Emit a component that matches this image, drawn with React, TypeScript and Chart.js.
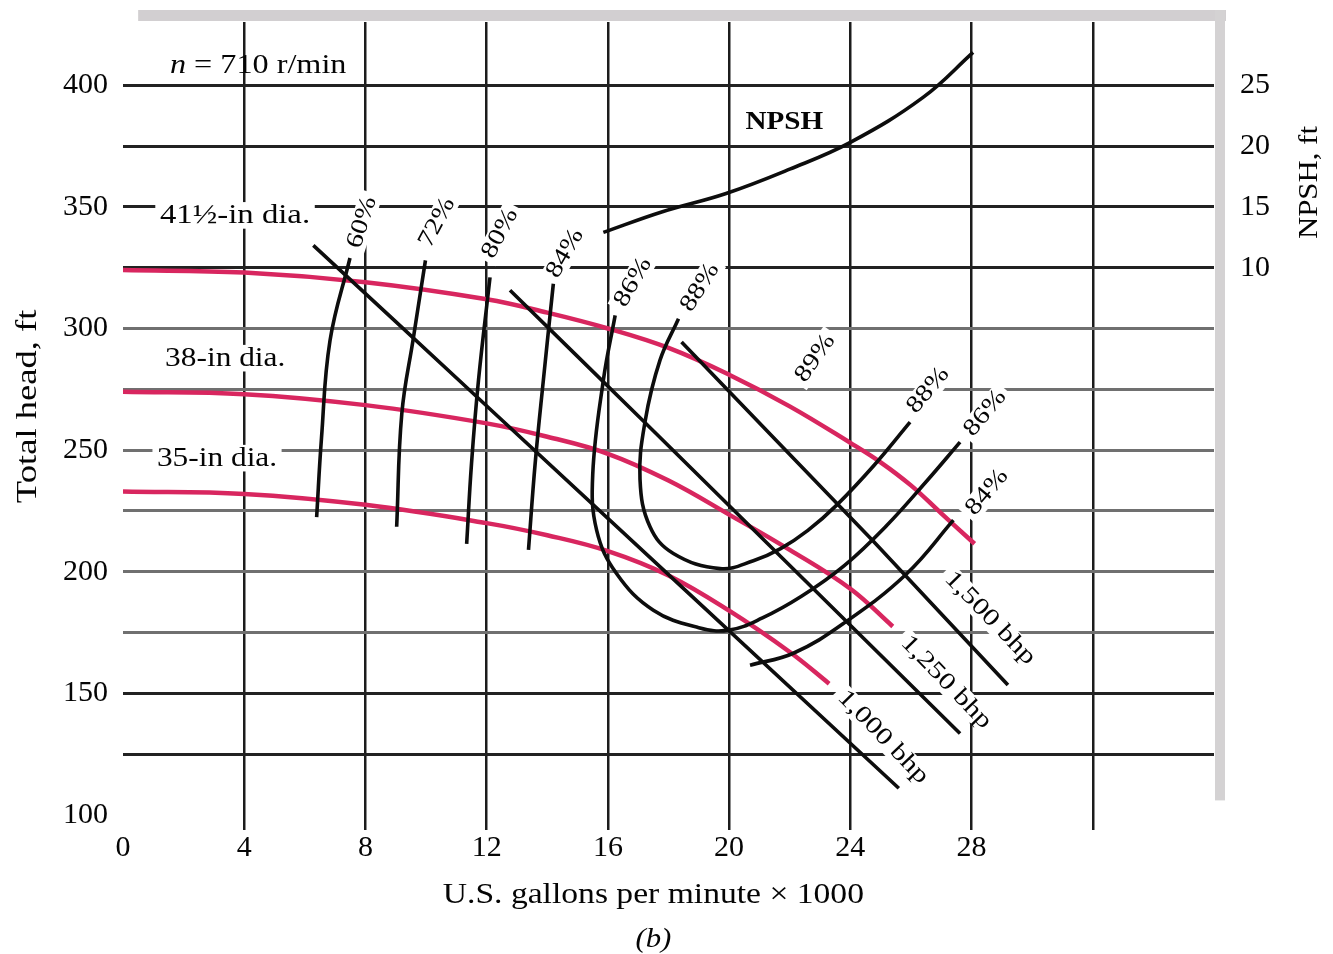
import React, { useEffect, useRef } from 'react';
import { Chart, registerables } from 'chart.js';

Chart.register(...registerables);

const FONT = '"Liberation Serif", "Times New Roman", serif';
const TEXT = '#050505';

// ---- axes ----
const flowTicks = [0, 4, 8, 12, 16, 20, 24, 28, 32, 36];
const flowLabelMax = 28;
const headTicks = [100, 125, 150, 175, 200, 225, 250, 275, 300, 325, 350, 375, 400];
const headDark = [400, 375, 350, 325, 150, 125];
const npshTicks = [10, 15, 20, 25];

// ---- head-capacity curves (flow x1000 gpm, head ft) ----
const dia415Flow = [0, 4, 8, 12, 14, 16, 18, 20, 22, 24, 25, 26, 27, 28.1];
const dia415Head = [324, 323, 319, 312, 306.5, 300, 292, 281, 268, 253, 245, 235.5, 224, 211.5];
const dia38Flow = [0, 4, 8, 12, 14, 16, 18, 20, 22, 24, 25.4];
const dia38Head = [274, 273, 268.5, 261, 255.5, 248.5, 237.5, 223.5, 209, 193, 177.5];
const dia35Flow = [0, 4, 8, 12, 14, 16, 18, 20, 22, 23.3];
const dia35Head = [233, 232, 227.5, 220, 215, 208.5, 198.5, 184, 167, 154];

// ---- efficiency curves ----
const eff60Flow = [6.39, 6.55, 6.83, 7.49];
const eff60Head = [222.5, 255, 295, 329];
const eff72Flow = [9.03, 9.2, 9.58, 9.98];
const eff72Head = [218.5, 265, 296, 328];
const eff80Flow = [11.34, 11.5, 11.73, 12.11];
const eff80Head = [211.5, 244.5, 278.7, 321];
const eff84Flow = [13.38, 13.6, 13.87, 14.2];
const eff84Head = [209, 244.5, 278.7, 318.4];
const eff86Flow = [16.24, 15.85, 15.5, 15.63, 16.29, 17.5, 19.0, 20.0, 21.1, 22.4, 23.8, 25.2, 26.5, 27.62];
const eff86Head = [305.4, 278.7, 240, 217, 199.2, 184.2, 177, 176, 181, 190, 202.5, 219, 237, 253.3];
const eff88Flow = [18.33, 17.72, 17.23, 17.06, 17.39, 18.16, 19.7, 20.8, 21.7, 22.6, 23.55, 24.8, 25.97];
const eff88Head = [304, 287, 262, 238, 218.5, 207.5, 201.3, 204.5, 209.5, 217, 227.4, 244, 261.5];
const eff84bFlow = [20.69, 22.12, 23.77, 25.86, 27.4];
const eff84bHead = [161.6, 166.5, 178.7, 199.2, 221.2];

// ---- brake horsepower lines ----
const bhp1500Flow = [18.43, 24.76, 29.2];
const bhp1500Head = [294.4, 212.5, 153.4];
const bhp1250Flow = [12.77, 17.17, 27.62];
const bhp1250Head = [315.7, 262, 133.5];
const bhp1000Flow = [6.28, 11.45, 25.6];
const bhp1000Head = [334.2, 274.5, 111];

// ---- NPSH curve (ft, right axis) ----
const npshFlow = [15.85, 17.8, 19.9, 22, 24, 26.4, 28.05];
const npshValue = [12.9, 14.6, 16.1, 18.1, 20.3, 24.0, 27.7];

const zip = (xs: number[], ys: number[]) => xs.map((x, i) => ({ x, y: ys[i] }));

type Ann = {
  text: string;
  x: number;
  y: number;
  angle?: number;
  size?: number;
  bold?: boolean;
  italic?: boolean;
  align?: CanvasTextAlign;
  bg?: boolean;
  sx?: number;
};

const labels: Ann[] = [
  { text: '41½-in dia.', x: 1.22, y: 346.5, align: 'left', size: 28, bg: true, sx: 1.17 },
  { text: '38-in dia.', x: 1.39, y: 287.8, align: 'left', size: 28, bg: true },
  { text: '35-in dia.', x: 1.12, y: 246.7, align: 'left', size: 28, bg: true },
  { text: 'NPSH', x: 21.82, y: 384.7, size: 26, bold: true },
  { text: '60%', x: 7.89, y: 343.6, angle: -72, size: 24, bg: true, sx: 1.2 },
  { text: '72%', x: 10.36, y: 343.6, angle: -62, size: 24, bg: true, sx: 1.2 },
  { text: '80%', x: 12.44, y: 339.1, angle: -62, size: 24, bg: true, sx: 1.2 },
  { text: '84%', x: 14.59, y: 330.9, angle: -60, size: 24, bg: true, sx: 1.2 },
  { text: '86%', x: 16.83, y: 319, angle: -60, size: 24, bg: true, sx: 1.2 },
  { text: '88%', x: 19.04, y: 316.9, angle: -58, size: 24, bg: true, sx: 1.2 },
  { text: '89%', x: 22.84, y: 287.8, angle: -55, size: 24, bg: true, sx: 1.2 },
  { text: '88%', x: 26.57, y: 274.6, angle: -50, size: 24, bg: true, sx: 1.2 },
  { text: '86%', x: 28.45, y: 265.2, angle: -50, size: 24, bg: true, sx: 1.2 },
  { text: '84%', x: 28.51, y: 232.7, angle: -50, size: 24, bg: true, sx: 1.2 },
  { text: '1,500 bhp', x: 28.61, y: 180.9, angle: 46, size: 24, bg: true, sx: 1.25 },
  { text: '1,250 bhp', x: 27.16, y: 154.6, angle: 46, size: 24, bg: true, sx: 1.25 },
  { text: '1,000 bhp', x: 25.08, y: 132.0, angle: 46, size: 24, bg: true, sx: 1.25 },
];

function drawText(ctx: CanvasRenderingContext2D, a: Ann, px: number, py: number) {
  const size = a.size ?? 28;
  const align = a.align ?? 'center';
  ctx.save();
  ctx.translate(px, py);
  ctx.rotate(((a.angle ?? 0) * Math.PI) / 180);
  ctx.scale(a.sx ?? 1.12, 1);
  ctx.font = `${a.italic ? 'italic ' : ''}${a.bold ? 'bold ' : ''}${size}px ${FONT}`;
  ctx.textAlign = align;
  ctx.textBaseline = 'middle';
  const w = ctx.measureText(a.text).width;
  if (a.bg) {
    const h = size * 0.95;
    const x0 = align === 'left' ? 0 : align === 'right' ? -w : -w / 2;
    ctx.fillStyle = '#ffffff';
    ctx.fillRect(x0 - 4, -h / 2, w + 8, h);
  }
  ctx.fillStyle = TEXT;
  ctx.fillText(a.text, 0, 0);
  ctx.restore();
}

const annotPlugin = {
  id: 'annot',
  beforeDatasetsDraw(chart: any) {
    const ctx: CanvasRenderingContext2D = chart.ctx;
    const xs = chart.scales.x;
    const ys = chart.scales.y;
    const y2 = chart.scales.y2;
    const ca = chart.chartArea;

    // scan border decoration
    ctx.save();
    ctx.fillStyle = '#d2cfd1';
    ctx.fillRect(xs.getPixelForValue(0.5), ca.top - 12, ca.right + 12 - xs.getPixelForValue(0.5), 11);
    ctx.fillStyle = '#d4d2d3';
    ctx.fillRect(ca.right + 1, ca.top - 12, 10, ys.getPixelForValue(106) - ca.top + 12);
    ctx.restore();

    labels.forEach((a) => {
      drawText(ctx, a, xs.getPixelForValue(a.x), ys.getPixelForValue(a.y));
    });

    // speed label with italic n
    {
      const px = xs.getPixelForValue(1.55);
      const py = ys.getPixelForValue(408.1);
      ctx.save();
      ctx.translate(px, py);
      ctx.scale(1.15, 1);
      ctx.textBaseline = 'middle';
      ctx.textAlign = 'left';
      ctx.fillStyle = TEXT;
      ctx.font = `italic 28px ${FONT}`;
      ctx.fillText('n', 0, 0);
      const w = ctx.measureText('n').width;
      ctx.font = `28px ${FONT}`;
      ctx.fillText(' = 710 r/min', w, 0);
      ctx.restore();
    }

    // axis titles
    drawText(ctx, { text: 'Total head, ft', x: 0, y: 0, angle: -90, size: 30, sx: 1.22 }, ca.left - 95, ys.getPixelForValue(268));
    drawText(ctx, { text: 'NPSH, ft', x: 0, y: 0, angle: -90, size: 28, sx: 1.1 }, ca.right + 96, y2.getPixelForValue(17));
    drawText(ctx, { text: 'U.S. gallons per minute × 1000', x: 0, y: 0, size: 30, sx: 1.12 }, xs.getPixelForValue(17.5), ca.bottom + 80);
    drawText(ctx, { text: '(b)', x: 0, y: 0, size: 28, italic: true, sx: 1.1 }, xs.getPixelForValue(17.5), ca.bottom + 125);
  },
};

const BLACK = '#0d0d0d';
const PINK = '#d8265f';

function blackLine(label: string, xs: number[], ys: number[], tension = 0.4, axis = 'y') {
  return {
    label,
    data: zip(xs, ys),
    borderColor: BLACK,
    borderWidth: 3.6,
    pointRadius: 0,
    tension,
    fill: false,
    yAxisID: axis,
    order: 1,
  };
}

function pinkLine(label: string, xs: number[], ys: number[]) {
  return {
    label,
    data: zip(xs, ys),
    borderColor: PINK,
    borderWidth: 4.5,
    pointRadius: 0,
    tension: 0.4,
    fill: false,
    yAxisID: 'y',
    order: 2,
  };
}

const noVPad = (s: any) => {
  s.paddingTop = 0;
  s.paddingBottom = 0;
};

export default function App() {
  const ref = useRef<HTMLCanvasElement | null>(null);

  useEffect(() => {
    if (!ref.current) return;
    const chart = new Chart(ref.current, {
      type: 'line',
      data: {
        datasets: [
          blackLine('NPSH', npshFlow, npshValue, 0.4, 'y2'),
          blackLine('60%', eff60Flow, eff60Head),
          blackLine('72%', eff72Flow, eff72Head),
          blackLine('80%', eff80Flow, eff80Head),
          blackLine('84%', eff84Flow, eff84Head),
          blackLine('86%', eff86Flow, eff86Head),
          blackLine('88%', eff88Flow, eff88Head),
          blackLine('84% (right)', eff84bFlow, eff84bHead),
          blackLine('1500 bhp', bhp1500Flow, bhp1500Head, 0.1),
          blackLine('1250 bhp', bhp1250Flow, bhp1250Head, 0.1),
          blackLine('1000 bhp', bhp1000Flow, bhp1000Head, 0.1),
          pinkLine('41.5-in dia.', dia415Flow, dia415Head),
          pinkLine('38-in dia.', dia38Flow, dia38Head),
          pinkLine('35-in dia.', dia35Flow, dia35Head),
        ] as any,
      },
      options: {
        animation: false,
        responsive: false,
        devicePixelRatio: 1,
        layout: { padding: { top: 22, left: 0, right: 0, bottom: 0 } },
        plugins: {
          legend: { display: false },
          tooltip: { enabled: false },
        },
        scales: {
          x: {
            type: 'linear',
            min: 0,
            max: 36,
            border: { display: false },
            afterBuildTicks: (s: any) => {
              s.ticks = flowTicks.map((v) => ({ value: v }));
            },
            afterFit: (s: any) => {
              s.height = 139;
              s.paddingLeft = 0;
              s.paddingRight = 0;
            },
            grid: {
              color: (c: any) =>
                c.tick && (c.tick.value === 0 || c.tick.value === 36) ? 'rgba(0,0,0,0)' : '#1c1c1c',
              lineWidth: 2.5,
              tickLength: 15,
            },
            ticks: {
              autoSkip: false,
              maxRotation: 0,
              padding: 0,
              color: TEXT,
              font: { family: FONT, size: 30 },
              callback: (v: any) => (Number(v) <= flowLabelMax ? String(v) : ''),
            },
          },
          y: {
            type: 'linear',
            position: 'left',
            min: 100,
            max: 426,
            border: { display: false },
            afterBuildTicks: (s: any) => {
              s.ticks = headTicks.map((v) => ({ value: v }));
            },
            afterFit: (s: any) => {
              s.width = 123;
              noVPad(s);
            },
            grid: {
              color: (c: any) => {
                const v = c.tick ? c.tick.value : 0;
                if (v === 100) return 'rgba(0,0,0,0)';
                return headDark.includes(v) ? '#222' : '#707070';
              },
              lineWidth: 3,
              drawTicks: false,
            },
            ticks: {
              autoSkip: false,
              padding: 15,
              color: TEXT,
              font: { family: FONT, size: 30 },
              callback: (v: any) => (Number(v) % 50 === 0 ? String(v) : ''),
            },
          },
          y2: {
            type: 'linear',
            position: 'right',
            min: -35,
            max: 30.2,
            border: { display: false },
            afterBuildTicks: (s: any) => {
              s.ticks = npshTicks.map((v) => ({ value: v }));
            },
            afterFit: (s: any) => {
              s.width = 119;
              noVPad(s);
            },
            grid: { display: false, drawTicks: false },
            ticks: {
              autoSkip: false,
              padding: 26,
              color: TEXT,
              font: { family: FONT, size: 30 },
            },
          },
        },
      } as any,
      plugins: [annotPlugin],
    });
    return () => chart.destroy();
  }, []);

  return (
    <div style={{ position: 'absolute', left: 0, top: 0, width: 1333, height: 954, background: '#fff' }}>
      <canvas ref={ref} width={1333} height={954} />
    </div>
  );
}
